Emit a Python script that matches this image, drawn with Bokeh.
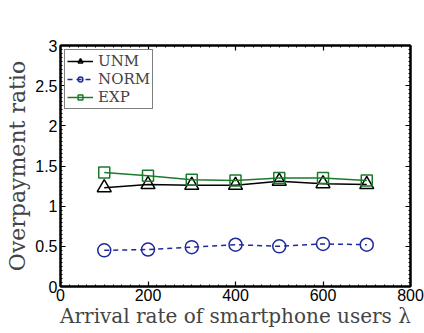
from bokeh.plotting import figure
from bokeh.models import LinearAxis, FixedTicker, Range1d, Legend, LegendItem
from bokeh.embed import file_html
from bokeh.resources import INLINE

x_vals = [100, 200, 300, 400, 500, 600, 700]
unm = [1.23, 1.27, 1.26, 1.26, 1.31, 1.28, 1.27]
norm = [0.45, 0.46, 0.49, 0.52, 0.50, 0.53, 0.52]
exp_ = [1.42, 1.38, 1.33, 1.32, 1.35, 1.35, 1.32]
x_ticks = [0, 200, 400, 600, 800]
y_ticks = [0, 0.5, 1, 1.5, 2, 2.5, 3]
y_tick_labels = ["0", "0.5", "1", "1.5", "2", "2.5", "3"]
x_minor_step = 20
y_minor_step = 0.05

x_minor = [i * x_minor_step for i in range(int(800 / x_minor_step) + 1)]
y_minor = [round(i * y_minor_step, 4) for i in range(int(round(3 / y_minor_step)) + 1)]

p = figure(width=424, height=333, output_backend="svg", toolbar_location=None,
           x_range=Range1d(0, 800), y_range=Range1d(0, 3),
           min_border_left=60, min_border_right=14, min_border_top=45, min_border_bottom=47)
p.xgrid.visible = False
p.ygrid.visible = False
p.outline_line_color = "black"
p.outline_line_width = 2
p.background_fill_color = "white"
p.border_fill_color = "white"

tick_font = "Liberation Sans"
serif = "DejaVu Serif"

def style_axis(ax):
    ax.axis_line_color = "black"
    ax.axis_line_width = 2
    ax.major_tick_in = 5
    ax.major_tick_out = 0
    ax.minor_tick_in = 2
    ax.minor_tick_out = 0
    ax.minor_tick_line_color = "black"
    ax.minor_tick_line_width = 1
    ax.major_tick_line_color = "black"
    ax.major_tick_line_width = 1.2
    ax.major_label_text_font = tick_font
    ax.major_label_text_font_size = "16px"
    ax.major_label_text_color = "black"

xa = p.xaxis[0]
xa.ticker = FixedTicker(ticks=x_ticks, minor_ticks=x_minor)
style_axis(xa)
xa.axis_label = "Arrival rate of smartphone users λ"
xa.axis_label_text_font = serif
xa.axis_label_text_font_size = "20px"
xa.axis_label_text_font_style = "normal"
xa.axis_label_standoff = 0
xa.major_label_standoff = 2

ya = p.yaxis[0]
ya.ticker = FixedTicker(ticks=y_ticks, minor_ticks=y_minor)
ya.major_label_overrides = {t: l for t, l in zip(y_ticks, y_tick_labels)}
style_axis(ya)
ya.axis_label = "Overpayment ratio"
ya.axis_label_text_font = serif
ya.axis_label_text_font_size = "22px"
ya.axis_label_text_font_style = "normal"
ya.axis_label_standoff = 2
ya.major_label_standoff = 3

top = LinearAxis(ticker=FixedTicker(ticks=x_ticks, minor_ticks=x_minor))
style_axis(top)
top.major_label_text_font_size = "1px"
top.major_label_overrides = {t: "" for t in x_ticks}
p.add_layout(top, "above")
right = LinearAxis(ticker=FixedTicker(ticks=y_ticks, minor_ticks=y_minor))
style_axis(right)
right.major_label_text_font_size = "1px"
right.major_label_overrides = {t: "" for t in y_ticks}
p.add_layout(right, "right")

c_unm = "black"
c_norm = "#1f2a9a"
c_exp = "#1b7a2b"

l1 = p.line(x_vals, unm, line_color=c_unm, line_width=1.5)
m1 = p.scatter(x_vals, unm, marker="triangle", size=14, fill_color=None, line_color=c_unm, line_width=1.5)
l2 = p.line(x_vals, norm, line_color=c_norm, line_width=1.5, line_dash="5 4")
m2 = p.scatter(x_vals, norm, marker="circle", size=13, fill_color=None, line_color=c_norm, line_width=1.5)
l3 = p.line(x_vals, exp_, line_color=c_exp, line_width=1.5)
m3 = p.scatter(x_vals, exp_, marker="square", size=11, fill_color=None, line_color=c_exp, line_width=1.5)

legend = Legend(items=[
    LegendItem(label="UNM", renderers=[l1, m1]),
    LegendItem(label="NORM", renderers=[l2, m2]),
    LegendItem(label="EXP", renderers=[l3, m3]),
], location="top_left")
legend.label_text_font = serif
legend.label_text_font_size = "15px"
legend.label_height = 10
legend.glyph_height = 12
legend.glyph_width = 26
legend.spacing = 0
legend.padding = 2
legend.margin = 4
legend.label_standoff = 5
legend.border_line_color = "black"
legend.border_line_width = 1.2
legend.background_fill_alpha = 1
p.add_layout(legend)

open("out.html", "w").write(file_html(p, INLINE))
